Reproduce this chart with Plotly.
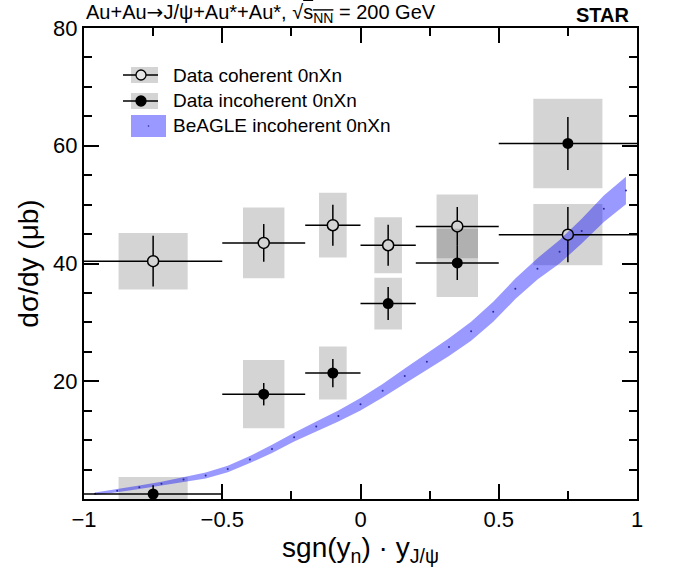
import plotly.graph_objects as go

# ---------------- data ----------------
x_center = [-0.75, -0.35, -0.1, 0.1, 0.35, 0.75]
x_halfbin = [0.25, 0.15, 0.1, 0.1, 0.15, 0.25]

coh_val = [40.4, 43.5, 46.5, 43.1, 46.3, 44.9]
coh_stat = [4.3, 3.2, 3.5, 3.5, 3.3, 4.7]
coh_sys = [4.8, 6.0, 5.5, 4.75, 5.4, 5.2]

inc_val = [0.85, 17.8, 21.4, 33.2, 40.1, 60.4]
inc_stat = [1.5, 1.9, 2.4, 2.8, 2.9, 4.5]
inc_sys = [2.9, 5.8, 4.5, 4.4, 5.8, 7.6]

beagle_x = [-0.96, -0.88, -0.80, -0.72, -0.64, -0.56, -0.48, -0.40, -0.32, -0.24,
            -0.16, -0.08, 0.0, 0.08, 0.16, 0.24, 0.32, 0.40, 0.48, 0.56,
            0.64, 0.72, 0.80, 0.88, 0.96]
beagle_y = [0.9, 1.4, 2.0, 2.6, 3.3, 4.0, 5.1, 6.7, 8.5, 10.5,
            12.3, 14.1, 16.1, 18.4, 20.9, 23.3, 25.8, 28.5, 31.8, 35.7,
            39.1, 42.0, 45.5, 49.3, 52.4]
beagle_err = [0.2, 0.25, 0.3, 0.35, 0.4, 0.5, 0.55, 0.6, 0.7, 0.75,
              0.85, 0.95, 1.05, 1.15, 1.25, 1.35, 1.5, 1.6, 1.7, 1.75,
              1.8, 2.0, 2.1, 2.25, 2.35]

x_tickvals = [-1, -0.5, 0, 0.5, 1]
x_ticktext = ["\u22121", "\u22120.5", "0", "0.5", "1"]
y_tickvals = [20, 40, 60, 80]
y_ticktext = ["20", "40", "60", "80"]

legend_labels = ["Data coherent 0nXn", "Data incoherent 0nXn", "BeAGLE incoherent 0nXn"]

# ---------------- styling / layout constants ----------------
W, H = 673, 575
L, R, T, B = 84, 36, 28, 76
PW, PH = W - L - R, H - T - B
X_RANGE = [-1, 1]
Y_RANGE = [0, 80]
FONT = "Liberation Sans, Arial, Helvetica, sans-serif"
BOX_COLOR = "rgba(0,0,0,0.17)"
BAND_COLOR = "rgba(0,0,255,0.4)"
MARKER_SIZE = 11
GAP_PX = MARKER_SIZE / 2.0  # error-bar gap around open markers (ROOT style)


def px(xp):
    return (xp - L) / PW


def py(yp):
    return (H - B - yp) / PH


fig = go.Figure()

# systematic boxes
for vals, sys in [(coh_val, coh_sys), (inc_val, inc_sys)]:
    fig.add_trace(go.Bar(
        x=x_center,
        y=[2 * s for s in sys],
        base=[v - s for v, s in zip(vals, sys)],
        width=x_halfbin,
        marker=dict(color=BOX_COLOR, line=dict(width=0)),
        hoverinfo="skip",
    ))

# BeAGLE band
upper = [y + e for y, e in zip(beagle_y, beagle_err)]
lower = [y - e for y, e in zip(beagle_y, beagle_err)]
fig.add_trace(go.Scatter(
    x=beagle_x + beagle_x[::-1],
    y=upper + lower[::-1],
    fill="toself", fillcolor=BAND_COLOR,
    mode="lines", line=dict(width=0),
    hoverinfo="skip",
))
fig.add_trace(go.Scatter(
    x=beagle_x, y=beagle_y, mode="markers",
    marker=dict(size=2, color="#2a2aa0"),
))

# coherent: error bars drawn as segments leaving a gap at the open marker
gx = GAP_PX * (X_RANGE[1] - X_RANGE[0]) / PW
gy = GAP_PX * (Y_RANGE[1] - Y_RANGE[0]) / PH
seg_x, seg_y = [], []
for xc, hb, v, e in zip(x_center, x_halfbin, coh_val, coh_stat):
    seg_x += [xc - hb, xc - gx, None, xc + gx, xc + hb, None,
              xc, xc, None, xc, xc, None]
    seg_y += [v, v, None, v, v, None,
              v - e, v - gy, None, v + gy, v + e, None]
fig.add_trace(go.Scatter(
    x=seg_x, y=seg_y, mode="lines",
    line=dict(color="black", width=1.5), hoverinfo="skip",
))
fig.add_trace(go.Scatter(
    x=x_center, y=coh_val, mode="markers",
    marker=dict(symbol="circle-open", size=MARKER_SIZE, color="black",
                line=dict(width=1.5, color="black")),
))

# incoherent (filled markers)
err_style = dict(type="data", width=0, thickness=1.5, color="black")
fig.add_trace(go.Scatter(
    x=x_center, y=inc_val, mode="markers",
    error_x=dict(array=x_halfbin, **err_style),
    error_y=dict(array=inc_stat, **err_style),
    marker=dict(symbol="circle", size=MARKER_SIZE, color="black"),
))

# ---------------- manual legend ----------------
shapes = []
annotations = []
rows_y = [75, 101, 126]
for i, filled in enumerate([False, True]):
    yc = rows_y[i]
    shapes.append(dict(type="rect", xref="paper", yref="paper",
                       x0=px(131), x1=px(158), y0=py(yc - 8), y1=py(yc + 8),
                       fillcolor=BOX_COLOR, line=dict(width=0), layer="above"))
    shapes.append(dict(type="line", xref="paper", yref="paper",
                       x0=px(123), x1=px(158), y0=py(yc), y1=py(yc),
                       line=dict(color="black", width=1.5), layer="above"))
    shapes.append(dict(type="circle", xref="paper", yref="paper",
                       xsizemode="pixel", ysizemode="pixel",
                       xanchor=px(141), yanchor=py(yc),
                       x0=-5, x1=5, y0=-5, y1=5,
                       fillcolor="black" if filled else "#e6e6e6",
                       line=dict(color="black", width=1.3), layer="above"))
yc = rows_y[2]
shapes.append(dict(type="rect", xref="paper", yref="paper",
                   x0=px(131), x1=px(166), y0=py(yc - 11), y1=py(yc + 11),
                   fillcolor=BAND_COLOR, line=dict(width=0), layer="above"))
shapes.append(dict(type="circle", xref="paper", yref="paper",
                   xsizemode="pixel", ysizemode="pixel",
                   xanchor=px(148.5), yanchor=py(yc),
                   x0=-0.8, x1=0.8, y0=-0.8, y1=0.8,
                   fillcolor="#2a2aa0", line=dict(width=0), layer="above"))

for lab, yc in zip(legend_labels, rows_y):
    annotations.append(dict(text=lab, xref="paper", yref="paper",
                            x=px(171), y=py(yc), xanchor="left", yanchor="middle",
                            showarrow=False, font=dict(size=19, family=FONT, color="black")))

# header texts
annotations.append(dict(
    text=("Au+Au<span style='font-family:DejaVu Sans'>\u2192</span>J/\u03c8+Au*+Au*, "
          "\u221a<span style='text-decoration:overline'>s<sub>NN</sub></span> = 200 GeV"),
    xref="paper", yref="paper", x=0, y=1, xanchor="left", yanchor="bottom",
    xshift=0, yshift=0, showarrow=False,
    font=dict(size=20, family=FONT, color="black")))
annotations.append(dict(
    text="<b>STAR</b>", xref="paper", yref="paper", x=1, y=1,
    xanchor="right", yanchor="bottom", xshift=-5, yshift=0, showarrow=False,
    font=dict(size=20, family=FONT, color="black")))

axis_common = dict(
    showline=True, linecolor="black", linewidth=2, mirror="ticks",
    ticks="inside", ticklen=15, tickwidth=1.5, tickcolor="black",
    showgrid=False, zeroline=False, automargin=False,
    tickfont=dict(size=22, family=FONT, color="black"),
)

fig.update_layout(
    width=W, height=H,
    margin=dict(l=L, r=R, t=T, b=B, pad=0),
    paper_bgcolor="white", plot_bgcolor="white",
    showlegend=False, barmode="overlay",
    font=dict(family=FONT, color="black"),
    xaxis=dict(
        range=X_RANGE, tickmode="array", tickvals=x_tickvals, ticktext=x_ticktext,
        minor=dict(tickmode="linear", tick0=0, dtick=0.25, ticks="inside",
                   ticklen=8, tickwidth=1.5, tickcolor="black", showgrid=False),
        title=dict(text="sgn(y<sub>n</sub>) \u00b7 y<sub>J/\u03c8</sub>",
                   font=dict(size=28, family=FONT, color="black"), standoff=0),
        **axis_common,
    ),
    yaxis=dict(
        range=Y_RANGE, tickmode="array", tickvals=y_tickvals, ticktext=y_ticktext,
        minor=dict(tickmode="linear", tick0=0, dtick=5, ticks="inside",
                   ticklen=8, tickwidth=1.5, tickcolor="black", showgrid=False),
        title=dict(text="d\u03c3/dy (\u03bcb)",
                   font=dict(size=28, family=FONT, color="black"), standoff=6),
        **axis_common,
    ),
    shapes=shapes,
    annotations=annotations,
)

fig.write_html("out.html", config={"displayModeBar": False},
               post_script="document.body.style.margin='0';document.body.style.padding='0';")
